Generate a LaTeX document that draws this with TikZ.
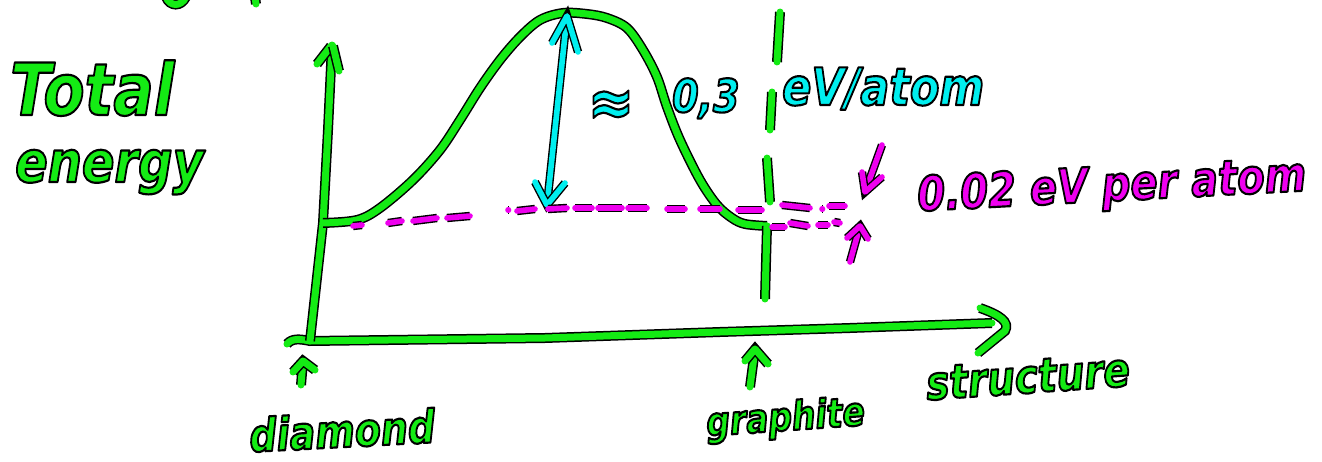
\documentclass[tikz,border=0pt]{standalone}
\usepackage{graphicx}
\usepackage{fontspec}
\setmainfont{DejaVu Sans}
\definecolor{pen}{RGB}{20,235,20}
\definecolor{penc}{RGB}{0,238,238}
\definecolor{penm}{RGB}{238,0,238}
\newcommand{\hwfont}[1]{\fontsize{#1}{#1}\selectfont\bfseries\itshape}
% filled glyphs with a dark stroked rim (text render mode 2), drawn a little tall
\newcommand{\outl}[1]{\scalebox{1}[1.2]{\special{pdf:literal direct 0 G 1.8 w 1 j 2 Tr}#1\special{pdf:literal direct 0 Tr}}}
\tikzset{
  ink/.style={draw=#1, line width=7pt, line cap=round, line join=round,
              preaction={draw=black, line width=10pt}},
  ink/.default=pen,
  fine ink/.style={draw=#1, line width=5.6pt, line cap=round, line join=round,
              preaction={draw=black, line width=8.4pt}},
  fine ink/.default=penc,
  word/.style={inner sep=0pt, anchor=base west},
}
\begin{document}
\begin{tikzpicture}[x=1pt, y=-1pt]
\fill[white] (0,0) rectangle (1322,462);
\useasboundingbox (0,0) rectangle (1322,462);

% axes
\coordinate (o) at (310,341);
\coordinate (ytop) at (332,45);
\coordinate (xend) at (992,323);
\draw[ink] (287,344) .. controls (292,338) and (300,339) .. (o)
  -- (545,338) -- (720,332) -- (850,328) -- (xend);
\draw[ink] (980,308) .. controls (1000,315) and (1010,322) .. (1005,331) -- (978,353);
\draw[ink] (o) -- (323,223) -- (328,130) -- (ytop);
\draw[ink] (317,64) -- (331,46);
\draw[ink] (333,46) -- (339,71);

% energy curve from diamond over the barrier to graphite
\coordinate (dia) at (323,223);
\coordinate (gra) at (767,226);
\draw[ink] plot[smooth, tension=0.55] coordinates {
  (dia) (357,220) (380,208) (413,180) (440,150) (460,120) (480,88)
  (500,60) (520,37) (540,20) (563,13) (587,14) (607,18) (627,28)
  (643,50) (657,77) (667,107) (680,140) (700,180) (717,205)
  (732,218) (745,224) (gra)};
\draw[ink] (gra) -- (766,262) -- (765,299);

% dashed marker through the graphite minimum
\draw[ink] (780,12) -- (777,62);
\draw[ink] (772,92) -- (770,130);
\draw[ink] (767,158) -- (770,202);

% barrier height arrow
\coordinate (btop) at (567,16);
\coordinate (bbot) at (547,205);
\draw[fine ink] (btop) -- (bbot);
\draw[fine ink] (552,43) -- (btop) -- (578,52);
\draw[fine ink] (535,182) -- (bbot) -- (565,183);

% magenta reference levels
\foreach \a/\b in {
  {353,226}/{362,225}, {388,223}/{402,221}, {413,221}/{437,218},
  {447,218}/{470,216}, {508,210}/{508.5,210}, {517,211}/{535,209},
  {548,209}/{567,208}, {575,208}/{592,208}, {598,208}/{622,208},
  {628,208}/{647,208}, {667,209}/{685,209}, {700,209}/{720,209},
  {738,210}/{762,210}, {782,205}/{810,208}, {822,209}/{822.5,209},
  {829,206}/{845,206},
  {772,227}/{785,227}, {790,223}/{808,226}, {818,225}/{828,225},
  {834,222}/{840,223}}
  \draw[fine ink=penm] (\a) -- (\b);

% 0.02 eV arrows
\draw[fine ink=penm] (882,145) -- (865,192);
\draw[fine ink=penm] (862,172) -- (865,192) -- (882,177);
\draw[fine ink=penm] (850,262) -- (860,226);
\draw[fine ink=penm] (847,238) -- (860,226) -- (868,239);

% structure markers
\draw[ink] (301,385) -- (303,361);
\draw[ink] (293,372) -- (303,361) -- (315,370);
\draw[ink] (750,387) -- (755,349);
\draw[ink] (745,361) -- (755,349) -- (768,364);

% strokes cut by the top edge
\draw[ink] (166,-3) .. controls (170,7) and (181,7) .. (186,-3);
\draw[ink] (255,-3) -- (256,4);

% labels
\node[word, text=pen, font=\hwfont{60}] (total) at (10,115) {\outl{Total}};
\node[word, text=pen, font=\hwfont{48}] (energy) at (15,182) {\outl{energy}};
\node[word, text=penc, font=\hwfont{56}, anchor=center] (approx) at (611,108) {\outl{≈}};
\node[word, text=penc, font=\hwfont{38}] (val) at (672,112) {\outl{0,3}};
\node[word, text=penc, font=\hwfont{43}] (unit) at (782,105) {\outl{eV/atom}};
\node[word, text=penm, font=\hwfont{40}, rotate=3] (small) at (918,211) {\outl{0.02 eV per atom}};
\node[word, text=pen, font=\hwfont{38}, rotate=3] (diamond) at (250,452) {\outl{diamond}};
\node[word, text=pen, font=\hwfont{33}, rotate=4] (graphite) at (707,436) {\outl{graphite}};
\node[word, text=pen, font=\hwfont{39}, rotate=4] (structure) at (927,400) {\outl{structure}};
\end{tikzpicture}
\end{document}
